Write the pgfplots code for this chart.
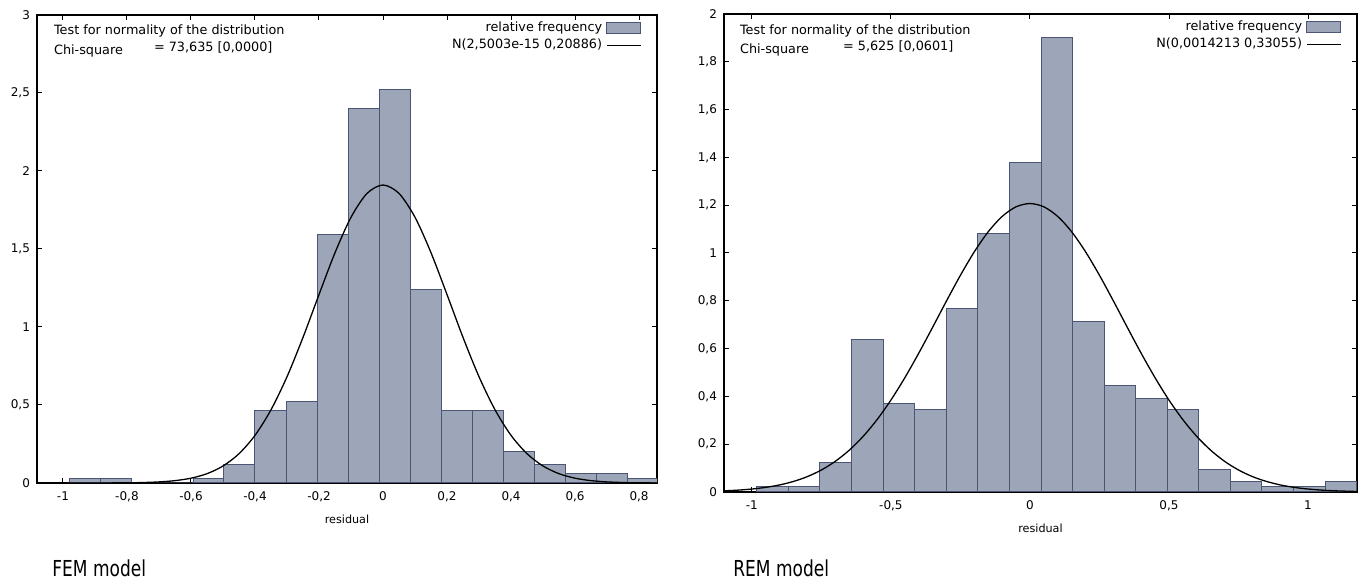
\documentclass[border=0pt]{standalone}
\usepackage{fontspec}
\setmainfont{DejaVu Sans}
\newfontfamily\capfont[FakeStretch=0.86]{DejaVu Sans Condensed}
\usepackage{pgfplots}
\pgfplotsset{compat=1.18}
\definecolor{barfill}{RGB}{156,166,184}
\definecolor{baredge}{RGB}{74,86,116}

\tikzset{note/.style={anchor=west, font=\fontsize{6.4}{7.5}\selectfont}}
\pgfplotsset{
  histo/.style={
    scale only axis,
    clip mode=individual,
    axis line style={black, line width=0.6pt},
    tick align=inside,
    major tick length=2.5pt,
    tick style={black, line width=0.5pt},
    ymin=0,
    xlabel={residual},
    xlabel style={font=\fontsize{5.6}{6}\selectfont, at={(axis description cs:0.5,0)}, anchor=center, yshift=-18pt},
    ticklabel style={font=\fontsize{6}{7}\selectfont},
    xticklabel style={yshift=-1pt},
    /pgf/number format/assume math mode=true,
    /pgf/number format/use comma,
    /pgf/number format/fixed,
    legend style={at={(1,1)}, anchor=north east, xshift=-4.5pt, yshift=1pt,
      draw=none, fill=none, font=\fontsize{6.4}{7.5}\selectfont,
      cells={anchor=east}, row sep=-1.5pt},
    legend plot pos=right,
  },
  bars/.style={ybar interval, fill=barfill, draw=baredge, line width=0.5pt, area legend},
  curve/.style={black, line width=0.65pt, smooth, no markers},
}

\begin{document}
\begin{tikzpicture}
\path[use as bounding box] (0,0) rectangle (682.5pt,291.5pt);

% FEM model
\begin{axis}[histo,
  at={(18.5pt,50pt)}, anchor=south west,
  width=310pt, height=234pt,
  xmin=-1.081, xmax=0.856, ymax=3,
  xtick={-1,-0.8,-0.6,-0.4,-0.2,0,0.2,0.4,0.6,0.8},
  ytick={0,0.5,1,1.5,2,2.5,3},
]
\addplot[bars] coordinates {
(-0.981,0.029) (-0.884,0.029) (-0.787,0) (-0.690,0) (-0.593,0.029)
(-0.497,0.116) (-0.400,0.462) (-0.303,0.520) (-0.206,1.590) (-0.109,2.400)
(-0.012,2.520) (0.085,1.240) (0.182,0.462) (0.279,0.462) (0.376,0.202)
(0.472,0.116) (0.569,0.058) (0.666,0.058) (0.763,0.029) (0.860,0)
};
\addlegendentry{relative frequency}
\addplot[curve] coordinates {
(-1.08,0) (-1.0,0.0000) (-0.9,0.0002) (-0.8,0.0012) (-0.75,0.0030) (-0.7,0.0070)
(-0.65,0.0151) (-0.6,0.0308) (-0.55,0.0596) (-0.5,0.1088) (-0.45,0.1876)
(-0.4,0.3052) (-0.35,0.4691) (-0.3,0.6808) (-0.25,0.9331) (-0.2,1.2077)
(-0.15,1.4759) (-0.1,1.7032) (-0.05,1.8562) (0,1.9101) (0.05,1.8562)
(0.1,1.7032) (0.15,1.4759) (0.2,1.2077) (0.25,0.9331) (0.3,0.6808)
(0.35,0.4691) (0.4,0.3052) (0.45,0.1876) (0.5,0.1088) (0.55,0.0596)
(0.6,0.0308) (0.65,0.0151) (0.7,0.0070) (0.75,0.0030) (0.8,0.0012) (0.856,0.0004)
};
\addlegendentry{N(2,5003e-15 0,20886)}
\node[note] at (rel axis cs:0,1) [xshift=5pt, yshift=-8pt] {Test for normality of the distribution};
\node[note] at (rel axis cs:0,1) [xshift=5pt, yshift=-18pt] {Chi-square};
\node[note] at (rel axis cs:0,1) [xshift=55pt, yshift=-16pt] {= 73,635 [0,0000]};
\end{axis}

% REM model
\begin{axis}[histo,
  at={(362pt,45.5pt)}, anchor=south west,
  width=316.5pt, height=239pt,
  xmin=-1.10, xmax=1.176, ymax=2,
  xtick={-1,-0.5,0,0.5,1},
  ytick={0,0.2,0.4,0.6,0.8,1,1.2,1.4,1.6,1.8,2},
]
\addplot[bars] coordinates {
(-0.982,0.023) (-0.869,0.023) (-0.755,0.125) (-0.642,0.640) (-0.528,0.370)
(-0.415,0.347) (-0.301,0.766) (-0.188,1.080) (-0.074,1.380) (0.040,1.900)
(0.153,0.715) (0.267,0.444) (0.380,0.393) (0.494,0.347) (0.607,0.096)
(0.721,0.046) (0.834,0.023) (0.948,0.023) (1.061,0.046) (1.175,0)
};
\addlegendentry{relative frequency}
\addplot[curve] coordinates {
(-1.1,0.0048) (-1.05,0.0078) (-1.0,0.0124) (-0.95,0.0194) (-0.9,0.0296)
(-0.85,0.0443) (-0.8,0.0645) (-0.75,0.0920) (-0.7,0.1282) (-0.65,0.1746)
(-0.6,0.2324) (-0.55,0.3024) (-0.5,0.3844) (-0.45,0.4778) (-0.4,0.5804)
(-0.35,0.6890) (-0.3,0.7995) (-0.25,0.9067) (-0.2,1.0050) (-0.15,1.0888)
(-0.1,1.1529) (-0.05,1.1932) (0,1.2069) (0.05,1.1932) (0.1,1.1529)
(0.15,1.0888) (0.2,1.0050) (0.25,0.9067) (0.3,0.7995) (0.35,0.6890)
(0.4,0.5804) (0.45,0.4778) (0.5,0.3844) (0.55,0.3024) (0.6,0.2324)
(0.65,0.1746) (0.7,0.1282) (0.75,0.0920) (0.8,0.0645) (0.85,0.0443)
(0.9,0.0296) (0.95,0.0194) (1.0,0.0124) (1.05,0.0078) (1.1,0.0048) (1.176,0.0021)
};
\addlegendentry{N(0,0014213 0,33055)}
\node[note] at (rel axis cs:0,1) [xshift=4.5pt, yshift=-8.5pt] {Test for normality of the distribution};
\node[note] at (rel axis cs:0,1) [xshift=4.5pt, yshift=-18pt] {Chi-square};
\node[note] at (rel axis cs:0,1) [xshift=56pt, yshift=-16pt] {= 5,625 [0,0601]};
\end{axis}

\node[anchor=west, inner sep=0pt, font=\capfont\fontsize{11}{12}\selectfont] at (26pt,7.5pt) {FEM model};
\node[anchor=west, inner sep=0pt, font=\capfont\fontsize{11}{12}\selectfont] at (366.5pt,7.5pt) {REM model};
\end{tikzpicture}
\end{document}
